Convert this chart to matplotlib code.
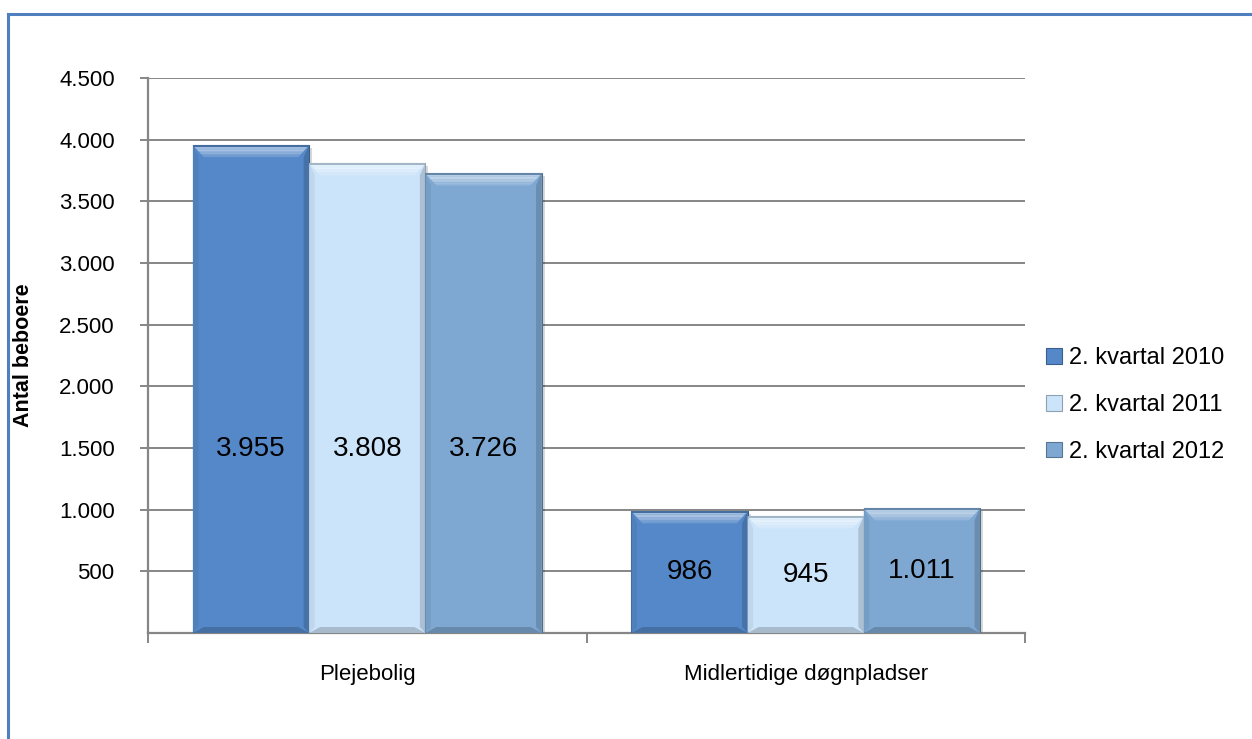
import matplotlib
matplotlib.use("Agg")
import matplotlib.pyplot as plt
from matplotlib.patches import Polygon, Rectangle
from matplotlib.lines import Line2D
import matplotlib.colors as mcolors
import numpy as np

plt.rcParams['font.family'] = ['Liberation Sans', 'DejaVu Sans']

categories = ["Plejebolig", "Midlertidige døgnpladser"]
series_names = ["2. kvartal 2010", "2. kvartal 2011", "2. kvartal 2012"]
values_2010 = [3955, 986]
values_2011 = [3808, 945]
values_2012 = [3726, 1011]
value_labels = [["3.955", "986"], ["3.808", "945"], ["3.726", "1.011"]]
series_values = [values_2010, values_2011, values_2012]
colors = ["#5588C8", "#CCE4FA", "#7EA8D2"]
yticks = [500, 1000, 1500, 2000, 2500, 3000, 3500, 4000, 4500]
ytick_labels = ["500", "1.000", "1.500", "2.000", "2.500", "3.000", "3.500", "4.000", "4.500"]

W, H = 1252, 739
fig = plt.figure(figsize=(W / 100, H / 100), dpi=100)
ax = fig.add_axes([148 / W, 1 - 633 / H, (1025 - 148) / W, (633 - 78) / H])

grid_c = "#868686"
ax.set_xlim(0, 2)
ax.set_ylim(0, 4500)

# pixel -> data scale for bevel sizes
px_x = 2 / (1025 - 148)
px_y = 4500 / (633 - 78)


def mix(c, other, t):
    a = np.array(mcolors.to_rgb(c))
    b = np.array(mcolors.to_rgb(other))
    return tuple(a * (1 - t) + b * t)


def bevel_bar(x0, width, h, c):
    x1 = x0 + width
    dx = 11 * px_x
    dy_top = 12 * px_y
    dy_bot = 6 * px_y
    # shadow on right
    ax.add_patch(Rectangle((x1, 0), 3 * px_x, h - 3 * px_y, facecolor="#000000",
                           alpha=0.15, linewidth=0, zorder=2))
    ax.add_patch(Rectangle((x0, 0), width, h, facecolor=c, edgecolor=mix(c, "black", 0.35),
                           linewidth=0.8, zorder=3))
    # side strips
    ax.add_patch(Polygon([(x0, 0), (x0 + dx * 0.5, dy_bot), (x0 + dx * 0.5, h - dy_top), (x0, h)],
                         closed=True, facecolor=mix(c, "black", 0.06), linewidth=0, zorder=3))
    ax.add_patch(Polygon([(x1, 0), (x1 - dx * 0.5, dy_bot), (x1 - dx * 0.5, h - dy_top), (x1, h)],
                         closed=True, facecolor=mix(c, "black", 0.16), linewidth=0, zorder=3))
    # top bevel (gradient in a few bands)
    n = 8
    for i in range(n):
        t0 = i / n
        t1 = (i + 1) / n
        pts = [(x0 + dx * t0, h - dy_top * t0), (x1 - dx * t0, h - dy_top * t0),
               (x1 - dx * t1, h - dy_top * t1), (x0 + dx * t1, h - dy_top * t1)]
        col = mix(c, "white", 0.55 * (1 - abs(t0 - 0.3) / 0.8))
        ax.add_patch(Polygon(pts, closed=True, facecolor=col, linewidth=0, zorder=3.1))
    # thin dark top line
    ax.add_patch(Rectangle((x0, h - 1.5 * px_y), width, 1.5 * px_y,
                           facecolor=mix(c, "black", 0.2), linewidth=0, zorder=3.2))
    # bottom bevel
    ax.add_patch(Polygon([(x0, 0), (x1, 0), (x1 - dx, dy_bot), (x0 + dx, dy_bot)],
                         closed=True, facecolor=mix(c, "black", 0.18), linewidth=0, zorder=3.1))


bar_w = 0.265
centers = np.arange(len(categories)) + 0.5
for si, (vals, c) in enumerate(zip(series_values, colors)):
    for ci, v in enumerate(vals):
        x0 = centers[ci] + (si - 1) * bar_w - bar_w / 2
        bevel_bar(x0, bar_w, v, c)
        ly = v / 2 if v < 2000 else 1490
        ax.text(x0 + bar_w / 2, ly, value_labels[si][ci], ha="center", va="center",
                fontsize=20, color="black", zorder=5)

# grid
for y in yticks:
    ax.axhline(y, color=grid_c, linewidth=1.4, zorder=1)

ax.set_yticks(yticks)
ax.set_yticklabels(ytick_labels, fontsize=16)
ax.set_xticks([0, 1, 2])
ax.set_xticklabels([])
ax.tick_params(axis="y", length=6, width=1.4, color=grid_c, pad=18, direction="out")
ax.tick_params(axis="x", length=7, width=1.4, color=grid_c, direction="out")
for ci, cat in enumerate(categories):
    ax.text(centers[ci], -340, cat, ha="center", va="center", fontsize=16)

for s in ["top", "right"]:
    ax.spines[s].set_visible(False)
for s in ["left", "bottom"]:
    ax.spines[s].set_color(grid_c)
    ax.spines[s].set_linewidth(1.6)

ax.set_ylabel("Antal beboere", fontsize=15.5, fontweight="bold")
ax.yaxis.set_label_coords(-0.1299, 0.5)

# legend
handles = [Rectangle((0, 0), 1, 1, facecolor=c, edgecolor=mix(c, "black", 0.3), linewidth=0.8)
           for c in colors]
leg = fig.legend(handles, series_names, loc="center left", bbox_to_anchor=(1037 / W, 1 - 405 / H),
                 frameon=False, fontsize=17, handlelength=0.65, handleheight=0.65,
                 handletextpad=0.3, labelspacing=1.05, borderaxespad=0)

# outer frame
frame_c = "#4F7FBF"
fig.add_artist(Line2D([8 / W, 8 / W], [0, 1 - 14 / H], color=frame_c, linewidth=2.2))
fig.add_artist(Line2D([8 / W, 1], [1 - 14 / H, 1 - 14 / H], color=frame_c, linewidth=2.2))

fig.savefig("out.png", dpi=100)
